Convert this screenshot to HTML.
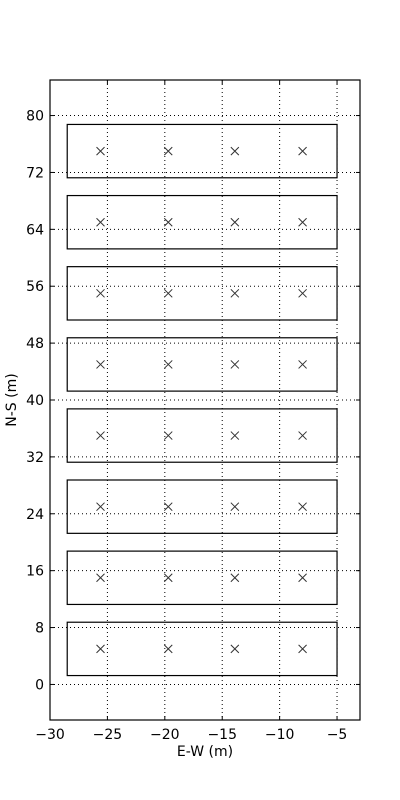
<!DOCTYPE html>
<html><head><meta charset="utf-8"><style>
body{margin:0;background:#fff;}
svg{display:block;font-family:"DejaVu Sans","Liberation Sans",sans-serif;}
</style></head><body>
<svg id="chart" width="400" height="800"></svg>
<script>
const xTicks=[-30,-25,-20,-15,-10,-5];
const yTicks=[0,8,16,24,32,40,48,56,64,72,80];
const rowCenters=[5,15,25,35,45,55,65,75];
const crossX=[-25.6,-19.7,-13.9,-8.0];
const rectX0=[-28.5];
const rectX1=[-5];
const rectHalfH=[3.75];
const L=50,R=360,T=80,B=720,xmin=-30,xmax=-3,ymin=-5,ymax=85;
const sx=v=>L+(v-xmin)/(xmax-xmin)*(R-L);
const sy=v=>B-(v-ymin)/(ymax-ymin)*(B-T);
const svg=document.getElementById('chart');
const NS='http://www.w3.org/2000/svg';
function mk(tag,attrs,parent){const e=document.createElementNS(NS,tag);for(const k in attrs)e.setAttribute(k,attrs[k]);(parent||svg).appendChild(e);return e;}
xTicks.forEach(t=>{const x=sx(t);
 const g=mk('line',{x1:x,x2:x,y1:T,y2:B,stroke:'#000','stroke-width':1,'stroke-dasharray':'1,3'});
 
 
 mk('line',{x1:x,x2:x,y1:B,y2:B-4,stroke:'#000'});mk('line',{x1:x,x2:x,y1:T,y2:T+4,stroke:'#000'});
 const tx=mk('text',{x:x,y:B+19,'text-anchor':'middle','font-size':14});tx.textContent=t<0?'\u2212'+Math.abs(t):t;
 
 
});
yTicks.forEach(t=>{const y=sy(t);
 const g=mk('line',{x1:L,x2:R,y1:y,y2:y,stroke:'#000','stroke-width':1,'stroke-dasharray':'1,3'});
 
 
 mk('line',{x1:L,x2:L+4,y1:y,y2:y,stroke:'#000'});mk('line',{x1:R,x2:R-4,y1:y,y2:y,stroke:'#000'});
 const tx=mk('text',{x:L-6,y:y+5,'text-anchor':'end','font-size':14});tx.textContent=t;
 
 
});
rowCenters.forEach(c=>{
 const r=mk('rect',{x:sx(rectX0[0]),y:sy(c+rectHalfH[0]),width:sx(rectX1[0])-sx(rectX0[0]),height:sy(c-rectHalfH[0])-sy(c+rectHalfH[0]),fill:'none',stroke:'#000','stroke-width':1.2});
 
 
 crossX.forEach(xv=>{const x=sx(xv),y=sy(c),d=4;
  const p=mk('path',{d:`M${x-d},${y-d}L${x+d},${y+d}M${x-d},${y+d}L${x+d},${y-d}`,stroke:'#333','stroke-width':1});
  
  
 });
});
const fr=mk('rect',{x:L,y:T,width:R-L,height:B-T,fill:'none',stroke:'#000','stroke-width':1.2});


const xl=mk('text',{x:(L+R)/2,y:756,'text-anchor':'middle','font-size':14});xl.textContent='E-W (m)';


const yl=mk('text',{x:16,y:(T+B)/2,'text-anchor':'middle','font-size':14,transform:`rotate(-90 16 ${(T+B)/2})`});yl.textContent='N-S (m)';


</script>
</body></html>
